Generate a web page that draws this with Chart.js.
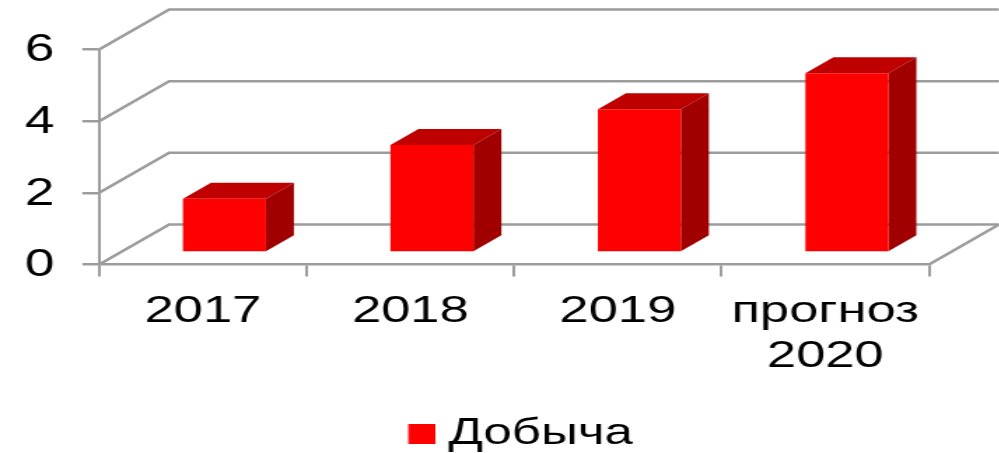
<!DOCTYPE html>
<html>
<head>
<meta charset="utf-8">
<script src="https://cdn.jsdelivr.net/npm/chart.js@4"></script>
<style>
  html, body { margin: 0; padding: 0; background: #fff; overflow: hidden; }
  /* the source picture is stretched sideways, so the whole canvas is too */
  #wrap { width: 999px; height: 453px; overflow: hidden; }
  canvas { display: block; transform: scaleX(1.4); transform-origin: 0 0; }
</style>
</head>
<body>
<div id="wrap"><canvas id="chart" width="714" height="453"></canvas></div>
<script>
const categories = ["2017", "2018", "2019", ["прогноз", "2020"]];
const seriesName = "Добыча";
const values = [1.5, 3, 4, 5];

const gridColor = "#9c9c9c";
const textColor = "#000";
const fontFamily = "'Liberation Sans', Arial, sans-serif";

// 3D look, in canvas units (canvas is stretched 1.4x)
const wall = { dx: 50, dy: -40 };
const barShift = { dx: 15.4, dy: -12 };
const barDepth = { dx: 20, dy: -16 };

function line(ctx, points) {
  ctx.beginPath();
  points.forEach((p, i) => i ? ctx.lineTo(p[0], p[1]) : ctx.moveTo(p[0], p[1]));
  ctx.stroke();
}

function face(ctx, points, color) {
  ctx.beginPath();
  points.forEach((p, i) => i ? ctx.lineTo(p[0], p[1]) : ctx.moveTo(p[0], p[1]));
  ctx.closePath();
  ctx.fillStyle = color;
  ctx.fill();
}

// legend swatch: transparent left half pulls the red square closer to the text
const swatch = document.createElement("canvas");
swatch.width = 38;
swatch.height = 20;
const swatchCtx = swatch.getContext("2d");
swatchCtx.fillStyle = "#ff0000";
swatchCtx.fillRect(18.5, 0, 19.5, 20);

const box3d = {
  id: "box3d",
  beforeDatasetsDraw(chart) {
    const ctx = chart.ctx;
    const { left, right } = chart.chartArea;
    const y = chart.scales.y;
    ctx.save();
    ctx.strokeStyle = gridColor;
    ctx.lineWidth = 2.5;
    y.ticks.forEach(t => {
      const py = y.getPixelForValue(t.value);
      line(ctx, [[left, py], [left + wall.dx, py + wall.dy], [right + wall.dx, py + wall.dy]]);
    });
    const py0 = y.getPixelForValue(0);
    line(ctx, [[right, py0], [right + wall.dx, py0 + wall.dy]]);
    ctx.restore();

    // depth faces, then the library's own bars moved onto the floor
    ctx.save();
    ctx.translate(barShift.dx, barShift.dy);
    chart.getDatasetMeta(0).data.forEach(bar => {
      const { x, y: top, base, width } = bar.getProps(["x", "y", "base", "width"], true);
      const l = x - width / 2, r = x + width / 2;
      face(ctx, [[l, top], [l + barDepth.dx, top + barDepth.dy], [r + barDepth.dx, top + barDepth.dy], [r, top]], "#bf0000");
      face(ctx, [[r, top], [r + barDepth.dx, top + barDepth.dy], [r + barDepth.dx, base + barDepth.dy], [r, base]], "#a00000");
    });
  },
  afterDatasetsDraw(chart) {
    chart.ctx.restore();
  }
};

new Chart(document.getElementById("chart"), {
  type: "bar",
  data: {
    labels: categories,
    datasets: [{
      label: seriesName,
      data: values,
      backgroundColor: "#ff0000",
      borderWidth: 0,
      barPercentage: 0.4,
      categoryPercentage: 1,
      clip: false
    }]
  },
  plugins: [box3d],
  options: {
    responsive: false,
    animation: false,
    devicePixelRatio: 1,
    layout: { padding: { top: 49.5, right: 50.4, bottom: -9, left: 0 } },
    plugins: {
      tooltip: { enabled: false },
      legend: {
        position: "bottom",
        fullSize: false,
        labels: {
          color: textColor,
          padding: 0,
          boxWidth: 19.5,
          boxHeight: 20,
          usePointStyle: true,
          pointStyle: swatch,
          font: { family: fontFamily, size: 36.5 }
        }
      }
    },
    scales: {
      x: {
        afterFit: s => { s.height = 151; },
        border: { color: gridColor, width: 2.5 },
        grid: { drawOnChartArea: false, color: gridColor, tickColor: gridColor, tickLength: 12, lineWidth: 2 },
        ticks: { color: textColor, padding: 13, maxRotation: 0, autoSkip: false, font: { family: fontFamily, size: 37.5 } }
      },
      y: {
        min: 0,
        max: 6,
        afterFit: s => { s.width = 70.8; },
        border: { color: gridColor, width: 2 },
        grid: { drawOnChartArea: false, color: gridColor, tickColor: gridColor, tickLength: 12, lineWidth: 2.5 },
        ticks: { stepSize: 2, color: textColor, padding: 20, labelOffset: 1.5, font: { family: fontFamily, size: 38 } }
      }
    }
  }
});
</script>
</body>
</html>
